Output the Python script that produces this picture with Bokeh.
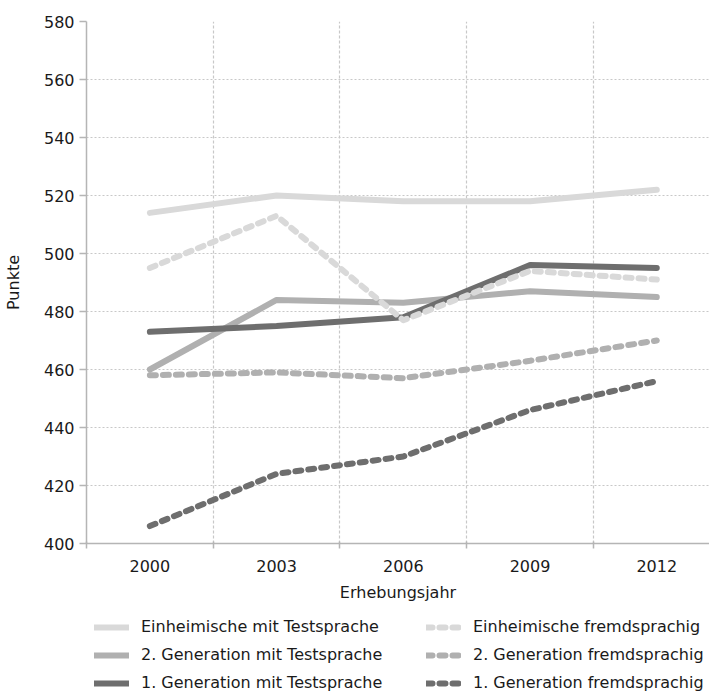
from bokeh.plotting import figure
from bokeh.models import (Range1d, FixedTicker, Legend, LegendItem)
from bokeh.layouts import column
from bokeh.embed import file_html
from bokeh.resources import INLINE

years = ["2000", "2003", "2006", "2009", "2012"]
y_ticks = [400, 420, 440, 460, 480, 500, 520, 540, 560, 580]

series_names = [
    "Einheimische mit Testsprache",
    "2. Generation mit Testsprache",
    "1. Generation mit Testsprache",
    "Einheimische fremdsprachig",
    "2. Generation fremdsprachig",
    "1. Generation fremdsprachig",
]
einh_test = [514, 520, 518, 518, 522]
gen2_test = [460, 484, 483, 487, 485]
gen1_test = [473, 475, 478, 496, 495]
einh_fremd = [495, 513, 477, 494, 491]
gen2_fremd = [458, 459, 457, 463, 470]
gen1_fremd = [406, 424, 430, 446, 456]

series_values = [einh_test, gen2_test, gen1_test, einh_fremd, gen2_fremd, gen1_fremd]
series_colors = ["#d9d9d9", "#b0b0b0", "#6e6e6e", "#d9d9d9", "#b0b0b0", "#6e6e6e"]
series_dash = ["solid", "solid", "solid", "6 7", "6 7", "6 7"]

FONT = "DejaVu Sans"
LW = 6

x = list(range(len(years)))

p = figure(width=709, height=606, output_backend="svg", toolbar_location=None,
           x_range=Range1d(-0.5, 4.416), y_range=Range1d(400, 580),
           min_border_left=79, min_border_top=21, min_border_right=0,
           min_border_bottom=63)
p.outline_line_color = None
p.background_fill_color = "white"
p.border_fill_color = "white"

for vals, col, dash in zip(series_values, series_colors, series_dash):
    p.line(x, vals, line_color=col, line_width=LW, line_dash=dash,
           line_cap="round", line_join="round")

# x axis
xax = p.xaxis[0]
xax.ticker = FixedTicker(ticks=x, minor_ticks=[i - 0.5 for i in range(len(years) + 1)])
xax.major_label_overrides = {i: yv for i, yv in enumerate(years)}
xax.major_tick_line_color = None
xax.major_tick_out = 0
xax.major_tick_in = 0
xax.minor_tick_line_color = "#b5b5b5"
xax.minor_tick_line_width = 1.5
xax.minor_tick_out = 5
xax.minor_tick_in = 2
xax.axis_line_color = "#b5b5b5"
xax.axis_line_width = 1.5
xax.major_label_text_font = FONT
xax.major_label_text_font_size = "16px"
xax.major_label_text_color = "#1a1a1a"
xax.major_label_standoff = 11
xax.axis_label = "Erhebungsjahr"
xax.axis_label_text_font = FONT
xax.axis_label_text_font_size = "16px"
xax.axis_label_text_font_style = "normal"
xax.axis_label_text_color = "#1a1a1a"
xax.axis_label_standoff = 8

# y axis
yax = p.yaxis[0]
yax.ticker = FixedTicker(ticks=y_ticks)
yax.minor_tick_line_color = None
yax.major_tick_line_color = "#b5b5b5"
yax.major_tick_line_width = 1.5
yax.major_tick_out = 7
yax.major_tick_in = 0
yax.axis_line_color = "#b5b5b5"
yax.axis_line_width = 1.5
yax.major_label_text_font = FONT
yax.major_label_text_font_size = "16px"
yax.major_label_text_color = "#1a1a1a"
yax.major_label_standoff = 5
yax.axis_label = "Punkte"
yax.axis_label_text_font = FONT
yax.axis_label_text_font_size = "16px"
yax.axis_label_text_font_style = "normal"
yax.axis_label_text_color = "#1a1a1a"
yax.axis_label_standoff = 18

# grids
p.xgrid.ticker = FixedTicker(ticks=[i + 0.5 for i in range(len(years) - 1)])
p.xgrid.grid_line_color = "#c8c8c8"
p.xgrid.grid_line_dash = "3 2"
p.xgrid.grid_line_width = 1.2
p.ygrid.ticker = FixedTicker(ticks=y_ticks[1:])
p.ygrid.grid_line_color = "#c8c8c8"
p.ygrid.grid_line_dash = "2 2"
p.ygrid.grid_line_width = 1.2

# legend figure (same series, drawn outside its visible range; only the legend shows)
lg = figure(width=709, height=85, output_backend="svg", toolbar_location=None,
            x_range=Range1d(0, 1), y_range=Range1d(0, 1),
            min_border_left=0, min_border_right=0, min_border_top=0,
            min_border_bottom=0)
lg.axis.visible = False
lg.grid.visible = False
lg.outline_line_color = None

legend_renderers = []
for vals, col, dash in zip(series_values, series_colors, series_dash):
    r = lg.line(x, vals, line_color=col, line_width=LW, line_dash=dash,
                line_cap="round", line_join="round")
    legend_renderers.append(r)

items = [LegendItem(label=n, renderers=[r]) for n, r in zip(series_names, legend_renderers)]
legend = Legend(items=items, ncols=2, orientation="vertical",
                location=(8, -1), padding=0, margin=0, spacing=9,
                glyph_width=35, glyph_height=18, label_height=18,
                label_width=276, label_standoff=12,
                label_text_font=FONT, label_text_font_size="16px",
                label_text_color="#1a1a1a",
                border_line_color=None, background_fill_alpha=0)
lg.add_layout(legend)

layout = column(p, lg, spacing=0)
open("out.html", "w").write(file_html(layout, INLINE))
